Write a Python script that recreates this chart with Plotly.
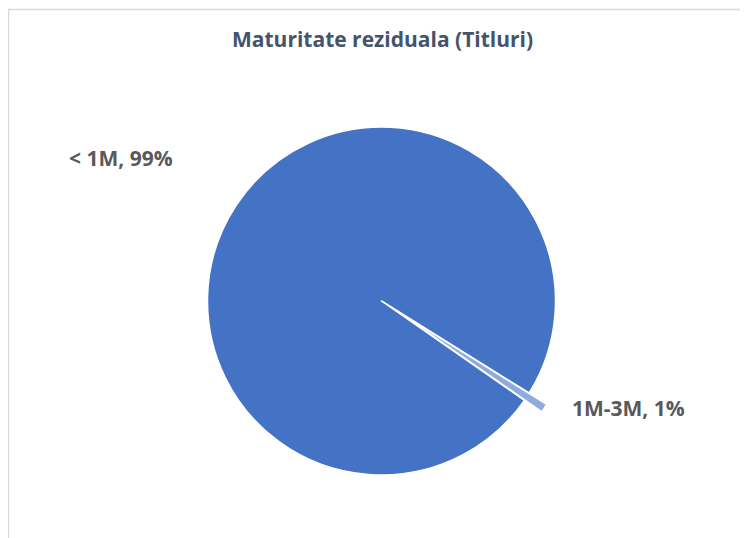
import plotly.graph_objects as go

labels = ["< 1M", "1M-3M"]
values = [99.2, 0.8]
pct_labels = ["99%", "1%"]
colors = ["#4472C4", "#8FAADC"]
title_text = "Maturitate reziduala (Titluri)"

W, H = 748, 538
OFF = 8  # page body margin
cx, cy, r, pull = 381.5 - OFF, 301 - OFF, 174, 0.12
half = r * (1 + pull)

fig = go.Figure(go.Pie(
    labels=labels, values=values, sort=False, direction="clockwise",
    rotation=124.8, pull=[0, pull], textinfo="none", hoverinfo="label+percent",
    marker=dict(colors=colors, line=dict(color="white", width=1.5)),
    domain=dict(x=[(cx - half) / W, (cx + half) / W],
                y=[(H - cy - half) / H, (H - cy + half) / H]),
    showlegend=False,
))

label_pos = [(121 - OFF, 158 - OFF), (628 - OFF, 408 - OFF)]
for (lab, pc), (x, y) in zip(zip(labels, pct_labels), label_pos):
    fig.add_annotation(x=x / W, y=(H - y) / H, xref="paper", yref="paper",
                       text=f"<b>{lab}, {pc}</b>", showarrow=False,
                       font=dict(family="Open Sans", size=21, color="#595959"),
                       xanchor="center", yanchor="middle")

fig.add_annotation(x=(382 - OFF) / W, y=(H - 39 + OFF) / H, xref="paper", yref="paper",
                   text=f"<b>{title_text}</b>", showarrow=False,
                   font=dict(family="Open Sans", size=21, color="#44546A"),
                   xanchor="center", yanchor="middle")

fig.add_shape(type="rect", xref="paper", yref="paper",
              x0=(8.5 - OFF) / W, x1=1.2, y0=-0.2, y1=(H - 9.5 + OFF) / H,
              line=dict(color="#D9D9D9", width=1.5), fillcolor="rgba(0,0,0,0)")

fig.update_layout(width=W, height=H, margin=dict(l=0, r=0, t=0, b=0),
                  paper_bgcolor="white", plot_bgcolor="white")
fig.write_html("out.html")
